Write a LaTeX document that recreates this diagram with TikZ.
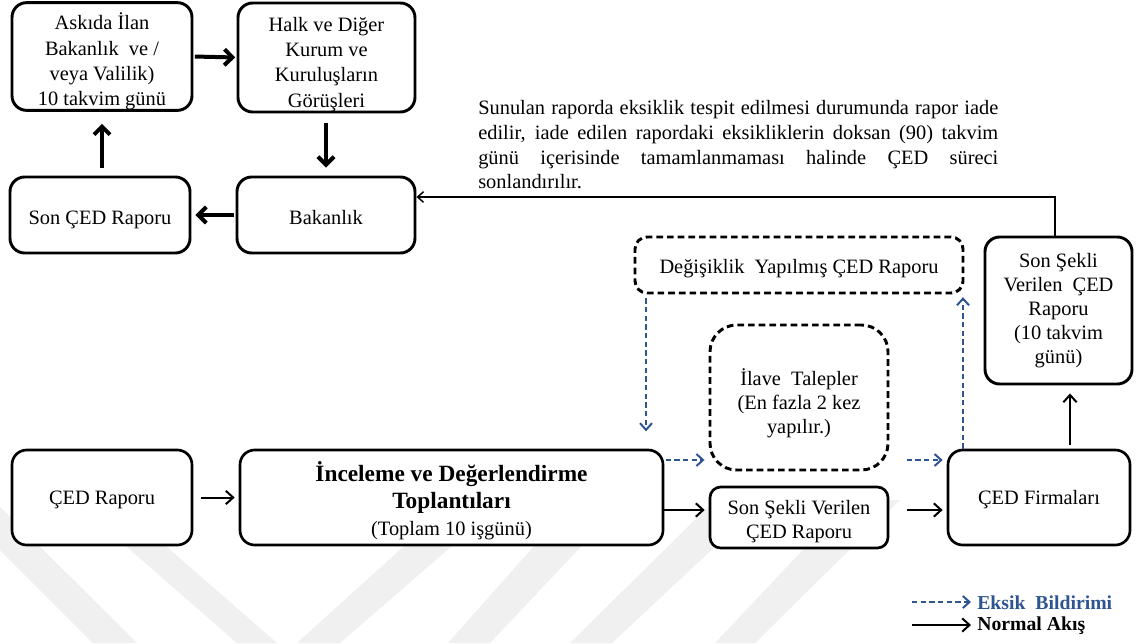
\documentclass[tikz,border=0pt]{standalone}
\usepackage{fontspec}
\setmainfont{Liberation Serif}
\usetikzlibrary{arrows.meta}
\definecolor{eksik}{RGB}{47,85,145}
\definecolor{band}{RGB}{240,240,240}
% invisible strut that raises the height of a first line
\newcommand\liftto[1]{\rule{0pt}{#1}}

\begin{document}
\begin{tikzpicture}[x=0.75pt,y=-0.75pt,
  box/.style={draw, line width=2.2pt, rounded corners=11pt, fill=white,
    inner sep=0pt, align=center, font=\fontsize{15.3}{18}\selectfont},
  dbox/.style={box, dash pattern=on 5pt off 3pt},
  % strut before a one-line text, to lower it a little
  drop/.style={execute at begin node={\liftto{#1}}},
  heavy/.style={line width=3pt, -{Straight Barb[length=6pt,width=12pt]}},
  flow/.style={line width=1.5pt, -{Straight Barb[length=5.5pt,width=10pt]}},
  back/.style={line width=1.1pt, -{Straight Barb[length=4.5pt,width=8pt]}},
  notice/.style={eksik, line width=1.5pt, dash pattern=on 4pt off 2.5pt,
    -{Straight Barb[length=5pt,width=9pt]}},
  legendtext/.style={anchor=west, inner sep=0pt,
    font=\bfseries\fontsize{14.8}{18}\selectfont},
]
% page frame
\useasboundingbox (0,0) rectangle (1141,643);
\fill[white] (0,0) rectangle (1141,643);

% background stripes
\begin{scope}
  \clip (0,0) rectangle (1141,643);
  \fill[band] (-50,500) -- (-7,500) -- (137,643) -- (93,643) -- cycle;
  \fill[band] (73,500) -- (113,500) -- (277,643) -- (237,643) -- cycle;
  \fill[band] (455,500) -- (505,500) -- (340,643) -- (297,643) -- cycle;
  \fill[band] (575,500) -- (625,500) -- (490,643) -- (448,643) -- cycle;
  \fill[band] (715,500) -- (765,500) -- (612,643) -- (570,643) -- cycle;
  \fill[band] (850,500) -- (900,500) -- (755,643) -- (715,643) -- cycle;
\end{scope}

% upper cycle
\node[box, font=\fontsize{15.3}{19}\selectfont,
  minimum width=135pt, minimum height=80.25pt] (askida) at (102,56.5)
  {\liftto{20.5pt}Askıda İlan\\Bakanlık\ \ ve /\\veya Valilik)\\10 takvim günü};
\node[box, font=\fontsize{15.3}{19}\selectfont,
  minimum width=132.75pt, minimum height=81.75pt] (halk) at (326.5,57.5)
  {\liftto{21pt}Halk ve Diğer\\Kurum ve\\Kuruluşların\\Görüşleri};
\node[box, drop=17.8pt, minimum width=135pt, minimum height=57pt] (sonced) at (100,215)
  {Son ÇED Raporu};
\node[box, drop=15pt, minimum width=133.5pt, minimum height=57pt] (bakanlik) at (326,215)
  {Bakanlık};

\draw[heavy, shorten <=1pt, shorten >=1pt] (askida.east) -- (halk.west);
\draw[heavy, shorten <=7pt, shorten >=6pt] (halk.south -| bakanlik.north) -- (bakanlik.north);
\draw[heavy, shorten <=1pt, shorten >=3pt] (bakanlik.west) -- (sonced.east);
\draw[heavy, shorten <=6pt, shorten >=9pt] (sonced.north -| askida.south) -- (askida.south);

% explanatory note
\node[anchor=north west, inner sep=0pt, text width=390pt, align=justify,
  font=\fontsize{15.3}{18.6}\selectfont] (note) at (478,100)
  {Sunulan raporda eksiklik tespit edilmesi durumunda rapor iade\linebreak
   edilir, iade edilen rapordaki eksikliklerin doksan (90) takvim\linebreak
   günü içerisinde tamamlanmaması halinde ÇED süreci\linebreak
   sonlandırılır.};

% revision loop
\node[dbox, drop=16.5pt, rounded corners=9pt, minimum width=246pt, minimum height=42pt]
  (degisiklik) at (799,265) {Değişiklik\ \ Yapılmış ÇED Raporu};
\node[dbox, rounded corners=20pt, minimum width=133.5pt, minimum height=108.75pt]
  (ilave) at (799,397.5) {\liftto{22pt}İlave\ \ Talepler\\(En fazla 2 kez\\yapılır.)};
\node[box, minimum width=110.25pt, minimum height=110.25pt] (sonsekil) at (1058.5,310.5)
  {Son Şekli\\Verilen\ \ ÇED\\Raporu\\(10 takvim\\günü)};

% main row
\node[box, drop=13.3pt, line width=2pt, minimum width=135pt, minimum height=71.25pt]
  (cedraporu) at (102,497.5) {ÇED Raporu};
\node[box, line width=2pt, minimum width=317.25pt, minimum height=71.25pt,
  font=\fontsize{15.3}{20.5}\selectfont] (inceleme) at (451.5,497.5)
  {{\bfseries\fontsize{17.5}{20.5}\selectfont\liftto{20pt}İnceleme ve Değerlendirme}\\
   {\bfseries\fontsize{17.5}{20.5}\selectfont Toplantıları}\\
   (Toplam 10 işgünü)};
\node[box, line width=2pt, rounded corners=8pt, minimum width=133.5pt,
  minimum height=45.75pt] (sonbot) at (799,517.5)
  {\liftto{16.5pt}Son Şekli Verilen\\ÇED Raporu};
\node[box, drop=13.5pt, line width=2pt, minimum width=136.5pt, minimum height=71.25pt]
  (firma) at (1039,497.5) {ÇED Firmaları};

% anchor columns and rows for connectors
\coordinate (rowflow) at (0,510);
\coordinate (rowask) at (0,460);
\coordinate (colup) at (1070,0);
\coordinate (coldown) at (646,0);
\coordinate (colback) at (963,0);
\coordinate (ret) at (1055,197);

% normal flow
\draw[flow, shorten <=6pt, shorten >=3pt] (cedraporu.east) -- (inceleme.west);
\draw[flow, shorten >=3pt] (inceleme.east |- rowflow) -- (sonbot.west |- rowflow);
\draw[flow, shorten <=13pt, shorten >=3pt] (sonbot.east |- rowflow) -- (firma.west |- rowflow);
\draw[flow, shorten <=3pt, shorten >=6pt] (firma.north -| colup) -- (sonsekil.south -| colup);
\draw[back] (sonsekil.north -| ret) -- (ret) -- (bakanlik.east |- ret);

% deficiency notices
\draw[notice, shorten <=3pt, shorten >=13pt] (degisiklik.south -| coldown) -- (inceleme.north -| coldown);
\draw[notice, shorten <=1pt, shorten >=3pt] (inceleme.east |- rowask) -- (ilave.west |- rowask);
\draw[notice, shorten <=13pt, shorten >=3pt] (ilave.east |- rowask) -- (firma.west |- rowask);
\draw[notice, shorten >=2pt] (firma.north -| colback) -- (degisiklik.south -| colback);

% legend
\coordinate (legA1) at (912,602);
\coordinate (legA2) at (971,602);
\coordinate (legB1) at (912,625);
\coordinate (legB2) at (971,625);
\draw[notice] (legA1) -- (legA2);
\draw[flow] (legB1) -- (legB2);
\node[legendtext, text=eksik] (legA) at (977,603) {Eksik\ \ Bildirimi};
\node[legendtext] (legB) at (977,626) {Normal Akış};
\end{tikzpicture}
\end{document}
